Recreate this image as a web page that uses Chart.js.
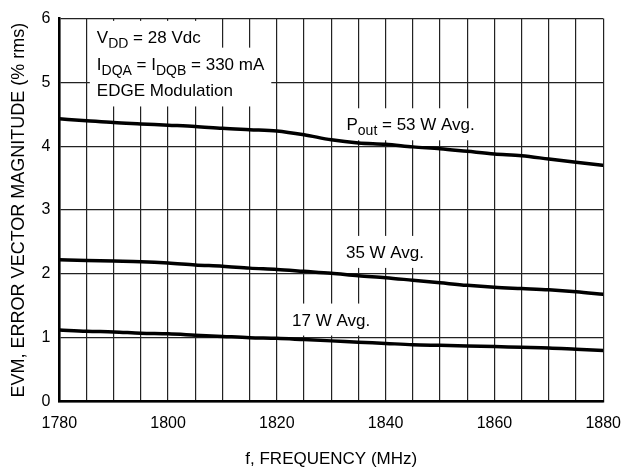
<!DOCTYPE html>
<html>
<head>
<meta charset="utf-8">
<script src="https://cdn.jsdelivr.net/npm/chart.js@4.4.0/dist/chart.umd.min.js"></script>
<style>
  html, body { margin: 0; padding: 0; background: #fff; }
  #wrap { width: 633px; height: 470px; }
</style>
</head>
<body>
<div id="wrap"><canvas id="evm-chart"></canvas></div>
<script>
// frequency points (MHz) and EVM readings (% rms) per output power
const freqs = [1780, 1785, 1790, 1795, 1800, 1805, 1810, 1815, 1820, 1825, 1830,
	1835, 1840, 1845, 1850, 1855, 1860, 1865, 1870, 1875, 1880];
const evm53 = [4.43, 4.40, 4.37, 4.35, 4.33, 4.31, 4.28, 4.26, 4.24, 4.18, 4.10,
	4.05, 4.03, 3.99, 3.96, 3.92, 3.88, 3.85, 3.80, 3.75, 3.70];
const evm35 = [2.22, 2.21, 2.20, 2.19, 2.17, 2.14, 2.12, 2.09, 2.07, 2.04, 2.01,
	1.97, 1.94, 1.90, 1.86, 1.82, 1.79, 1.77, 1.75, 1.72, 1.68];
const evm17 = [1.12, 1.10, 1.09, 1.07, 1.06, 1.04, 1.02, 1.00, 0.99, 0.97, 0.95,
	0.93, 0.91, 0.89, 0.88, 0.87, 0.86, 0.85, 0.84, 0.82, 0.80];
const xTickLabels = [1780, 1800, 1820, 1840, 1860, 1880];
const yTickLabels = [0, 1, 2, 3, 4, 5, 6];

const FONT = "'Liberation Sans', Arial, sans-serif";

// text blocks: anchor frequency, then [value at baseline, text parts]; a part with 1 is subscript
const notes = [
	{ f: 1786.9, lines: [[5.62, [["V"], ["DD", 1], [" = 28 Vdc"]]]] },
	{ f: 1786.9, lines: [
		[5.20, [["I"], ["DQA", 1], [" = I"], ["DQB", 1], [" = 330 mA"]]],
		[4.78, [["EDGE Modulation"]]],
	] },
	{ f: 1832.8, lines: [[4.25, [["P"], ["out", 1], [" = 53 W Avg."]]]] },
	{ f: 1832.7, lines: [[2.25, [["35 W Avg."]]]] },
	{ f: 1822.8, lines: [[1.19, [["17 W Avg."]]]] },
];

function partFont(sub) {
	return sub ? "14px " + FONT : "17px " + FONT;
}

const notesPlugin = {
	id: "notes",
	beforeDatasetsDraw(chart) {
		const ctx = chart.ctx;
		const xs = chart.scales.x;
		const ys = chart.scales.y;
		ctx.save();
		notes.forEach((n) => {
			const x0 = xs.getPixelForValue(n.f);
			let maxW = 0;
			n.lines.forEach((ln) => {
				let w = 0;
				ln[1].forEach((p) => {
					ctx.font = partFont(p[1]);
					w += ctx.measureText(p[0]).width;
				});
				maxW = Math.max(maxW, w);
			});
			const yFirst = ys.getPixelForValue(n.lines[0][0]);
			const yLast = ys.getPixelForValue(n.lines[n.lines.length - 1][0]);
			ctx.fillStyle = "#fff";
			ctx.fillRect(x0 - 7, yFirst - 22, maxW + 14, yLast - yFirst + 32);
			ctx.fillStyle = "#000";
			ctx.textBaseline = "alphabetic";
			n.lines.forEach((ln) => {
				const base = ys.getPixelForValue(ln[0]);
				let x = x0;
				ln[1].forEach((p) => {
					ctx.font = partFont(p[1]);
					ctx.fillText(p[0], x, p[1] ? base + 5 : base);
					x += ctx.measureText(p[0]).width;
				});
			});
		});
		ctx.restore();
	},
};

function series(vals) {
	return freqs.map((f, i) => ({ x: f, y: vals[i] }));
}

const lineStyle = {
	borderColor: "#000",
	borderWidth: 3.5,
	pointRadius: 0,
	fill: false,
	cubicInterpolationMode: "monotone",
};

new Chart(document.getElementById("evm-chart"), {
	type: "line",
	data: {
		datasets: [
			Object.assign({ label: "53 W Avg.", data: series(evm53) }, lineStyle),
			Object.assign({ label: "35 W Avg.", data: series(evm35) }, lineStyle),
			Object.assign({ label: "17 W Avg.", data: series(evm17) }, lineStyle),
		],
	},
	options: {
		responsive: true,
		maintainAspectRatio: false,
		animation: false,
		layout: { padding: { top: 16, right: 27, left: 0, bottom: 0 } },
		plugins: {
			legend: { display: false },
			tooltip: { enabled: false },
		},
		scales: {
			x: {
				type: "linear",
				min: 1780,
				max: 1880,
				afterFit: (s) => { s.height = 68.5; },
				ticks: {
					stepSize: 5,
					autoSkip: false,
					maxRotation: 0,
					padding: 12,
					color: "#000",
					font: { family: FONT, size: 16 },
					callback: (v) => (xTickLabels.includes(v) ? String(v) : ""),
				},
				grid: { color: "#222", lineWidth: 1.2, drawTicks: false },
				border: { color: "#000", width: 2.5 },
				title: {
					display: true,
					text: "f, FREQUENCY (MHz)",
					color: "#000",
					font: { family: FONT, size: 17 },
					padding: { top: 4, bottom: 0 },
				},
			},
			y: {
				min: 0,
				max: 6,
				afterFit: (s) => { s.width = 59.3; },
				ticks: {
					stepSize: 1,
					padding: 9,
					color: "#000",
					font: { family: FONT, size: 16 },
					callback: (v) => (yTickLabels.includes(v) ? String(v) : ""),
				},
				grid: { color: "#222", lineWidth: 1.2, drawTicks: false },
				border: { color: "#000", width: 2.5 },
				title: {
					display: true,
					text: "EVM, ERROR VECTOR MAGNITUDE (% rms)",
					color: "#000",
					font: { family: FONT, size: 18 },
					padding: { top: 8, bottom: 0 },
				},
			},
		},
	},
	plugins: [notesPlugin],
});
</script>
</body>
</html>
